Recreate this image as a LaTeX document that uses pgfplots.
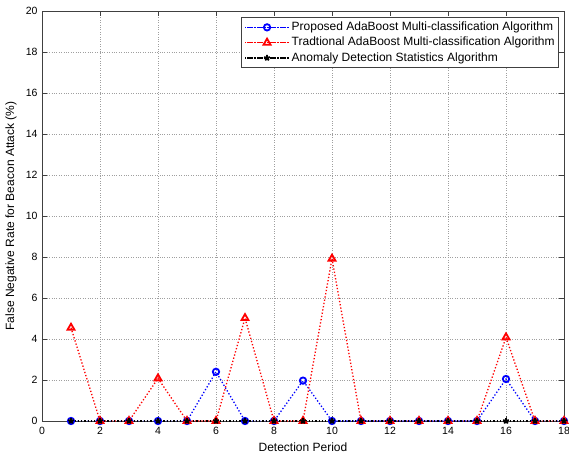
\documentclass[border=0pt]{standalone}
\usepackage{fontspec}
\setmainfont{Liberation Sans}
\usepackage{pgfplots}
\pgfplotsset{compat=1.18}
\usetikzlibrary{plotmarks}
\begin{document}
\begin{tikzpicture}[x=1pt,y=1pt]
\path[use as bounding box] (-42,-35) rectangle (527,421);
\begin{axis}[
  scale only axis,
  width=522pt, height=410pt,
  at={(0,0)}, anchor=south west,
  xmin=0, xmax=18, ymin=0, ymax=20,
  xtick={0,2,...,18}, ytick={0,2,...,20},
  tick align=inside,
  major tick length=5pt,
  xtick pos=both, ytick pos=both,
  grid=major,
  major grid style={dotted, gray!75, line width=0.5pt},
  axis line style={black!75, line width=0.6pt},
  tick style={black!75, line width=0.6pt},
  /pgf/number format/assume math mode=true,
  ticklabel style={font=\fontsize{10.5}{12}\selectfont},
  xticklabel style={yshift=-3pt},
  yticklabel style={xshift=-1pt},
  xlabel={Detection Period},
  ylabel={False Negative Rate for Beacon Attack (\%)},
  every axis x label/.style={at={(axis description cs:0.5,-0.065)}, anchor=center, font=\fontsize{12}{14}\selectfont},
  every axis y label/.style={at={(axis description cs:-0.0594,0.5)}, rotate=90, anchor=center, font=\fontsize{12}{14}\selectfont},
  legend style={at={(rel axis cs:1,1)}, anchor=north east, xshift=-5pt, yshift=-6.3pt,
    font=\fontsize{12}{14}\selectfont, draw=black!75, line width=0.6pt,
    nodes={inner sep=1pt, text height=9pt, text depth=2.5pt},
    row sep=1.8pt, inner sep=3pt},
  legend cell align=left,
  legend image code/.code={
    \path (-2pt,0pt) -- (43pt,0pt);
    \draw[#1] (0pt,0pt) -- (40pt,0pt);
    \draw[#1,only marks] plot coordinates {(20pt,0pt)};
  },
]
\addplot[blue, line width=1.3pt, dotted, mark=o, mark size=3.2pt,
  mark options={solid, line width=1.8pt}] coordinates {
(1,0) (2,0) (3,0) (4,0) (5,0) (6,2.4) (7,0) (8,0) (9,1.97) (10,0)
(11,0) (12,0) (13,0) (14,0) (15,0) (16,2.05) (17,0) (18,0)};
\addlegendentry{Proposed AdaBoost Multi-classification Algorithm}
\addplot[red, line width=1.3pt, dotted, mark=triangle, mark size=4pt,
  mark options={solid, line width=1.8pt}] coordinates {
(1,4.55) (2,0) (3,0) (4,2.08) (5,0) (6,0) (7,5.02) (8,0) (9,0) (10,7.92)
(11,0) (12,0) (13,0) (14,0) (15,0) (16,4.08) (17,0) (18,0)};
\addlegendentry{Tradtional AdaBoost Multi-classification Algorithm}
\addplot[black, line width=1.3pt, dotted, mark=star, mark size=3pt,
  mark options={solid, line width=1.8pt}] coordinates {
(1,0) (2,0) (3,0) (4,0) (5,0) (6,0) (7,0) (8,0) (9,0) (10,0)
(11,0) (12,0) (13,0) (14,0) (15,0) (16,0) (17,0) (18,0)};
\addlegendentry{Anomaly Detection Statistics Algorithm}
\end{axis}
\end{tikzpicture}
\end{document}
